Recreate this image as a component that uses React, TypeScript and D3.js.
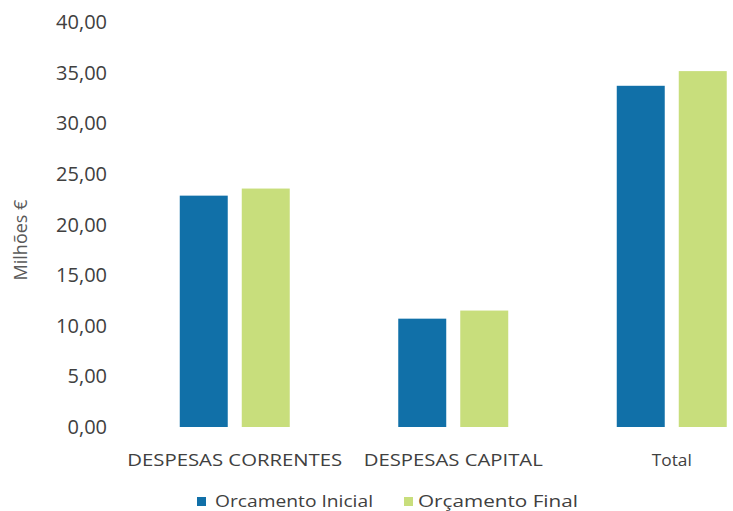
import React from "react";
import * as d3 from "d3";

const categories = ["DESPESAS CORRENTES", "DESPESAS CAPITAL", "Total"];
const seriesNames = ["Orcamento Inicial", "Orçamento Final"];
const orcamentoInicial = [22.85, 10.7, 33.7];
const orcamentoFinal = [23.55, 11.5, 35.15];
const yTicks = [0, 5, 10, 15, 20, 25, 30, 35, 40];
const colors = ["#1170a8", "#c8de7c"];
const categoryLabelWidths = [215, 179, 40];
const legendLabelWidths = [158, 160];

const W = 733;
const H = 511;

export default function App() {
  const y = d3.scaleLinear().domain([0, 40]).range([427, 22]);
  const x0 = d3.scaleBand().domain(categories).range([125.5, 781]);
  const x1 = d3
    .scaleBand()
    .domain(seriesNames)
    .range([0, x0.step()])
    .paddingInner(0.226)
    .paddingOuter(0.875);
  const values = [orcamentoInicial, orcamentoFinal];
  const fmt = (v: number) => d3.format(".2f")(v).replace(".", ",");
  const font = "'Open Sans', 'DejaVu Sans', sans-serif";

  return (
    <svg
      width={W}
      height={H}
      style={{ position: "absolute", left: 0, top: 0, background: "#fff" }}
      fontFamily={font}
    >
      <rect width={W} height={H} fill="#fff" />
      {yTicks.map((t) => (
        <text
          key={t}
          x={107}
          y={y(t)}
          dy="0.35em"
          textAnchor="end"
          fontSize={20}
          fill="#404040"
        >
          {fmt(t)}
        </text>
      ))}
      <text
        transform={`translate(27,240) rotate(-90)`}
        textAnchor="middle"
        fontSize={18}
        fill="#595959"
      >
        Milhões €
      </text>
      {categories.map((c, ci) => (
        <g key={c} transform={`translate(${x0(c)},0)`}>
          {seriesNames.map((s, si) => (
            <rect
              key={s}
              x={x1(s)}
              y={y(values[si][ci])}
              width={x1.bandwidth()}
              height={y(0) - y(values[si][ci])}
              fill={colors[si]}
            />
          ))}
        </g>
      ))}
      {categories.map((c, ci) => (
        <text
          key={c}
          x={(x0(c) as number) + x0.step() / 2}
          y={466}
          textAnchor="middle"
          fontSize={17}
          fill="#404040"
          textLength={categoryLabelWidths[ci]}
          lengthAdjust="spacingAndGlyphs"
        >
          {c}
        </text>
      ))}
      <rect x={197} y={497} width={9} height={9} fill={colors[0]} />
      <text
        x={215}
        y={507}
        fontSize={17}
        fill="#404040"
        textLength={legendLabelWidths[0]}
        lengthAdjust="spacingAndGlyphs"
      >
        {seriesNames[0]}
      </text>
      <rect x={404} y={497} width={9} height={9} fill={colors[1]} />
      <text
        x={418}
        y={507}
        fontSize={17}
        fill="#404040"
        textLength={legendLabelWidths[1]}
        lengthAdjust="spacingAndGlyphs"
      >
        {seriesNames[1]}
      </text>
    </svg>
  );
}
